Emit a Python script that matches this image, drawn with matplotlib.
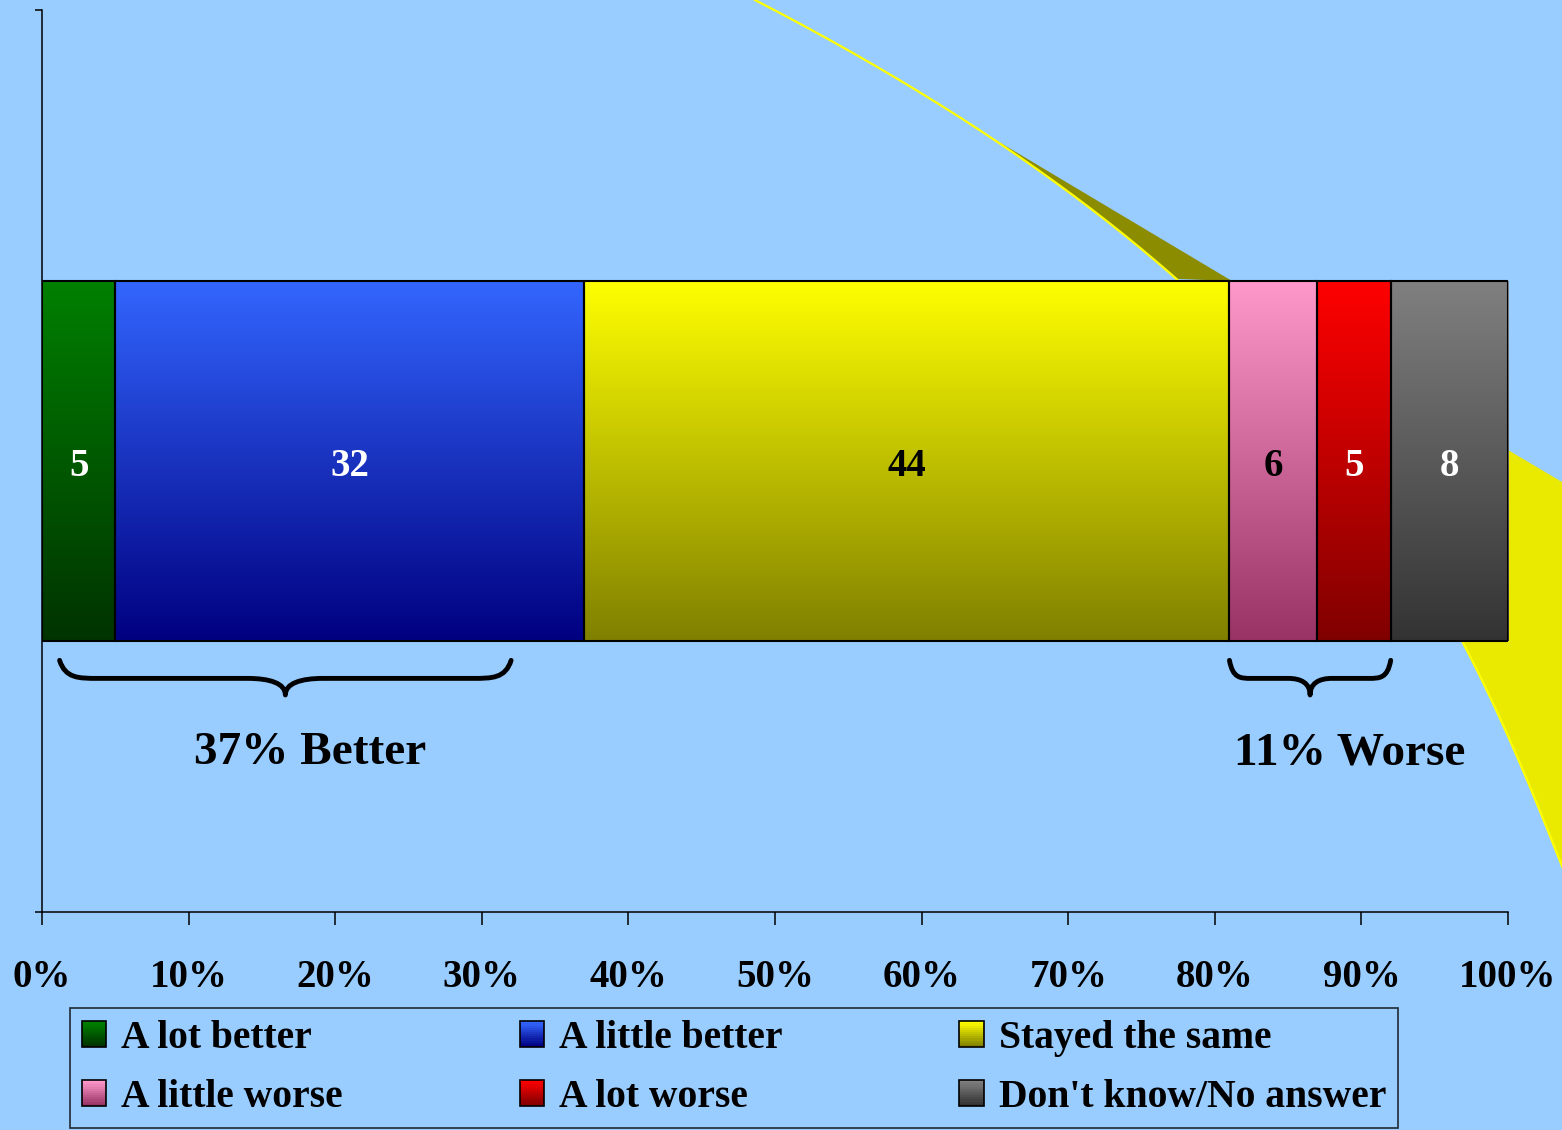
import numpy as np
import matplotlib
matplotlib.use('Agg')
import matplotlib.pyplot as plt
from matplotlib.colors import LinearSegmentedColormap, to_rgb
from matplotlib.patches import Rectangle, Polygon, PathPatch
from matplotlib.path import Path
from matplotlib.legend_handler import HandlerBase

# Data
categories = ['A lot better', 'A little better', 'Stayed the same',
              'A little worse', 'A lot worse', "Don't know/No answer"]
values = [5, 32, 44, 6, 5, 8]
top_colors = ['#008000', '#3366FF', '#FFFF00', '#FF99CC', '#FF0000', '#808080']
bottom_colors = ['#003300', '#000080', '#808000', '#993366', '#800000', '#333333']
label_colors = ['white', 'white', 'black', 'black', 'white', 'white']
xticks = [0, 10, 20, 30, 40, 50, 60, 70, 80, 90, 100]
xtick_labels = ['%d%%' % t for t in xticks]
better_idx = [0, 1]
worse_idx = [3, 4]

plt.rcParams['font.family'] = ['Liberation Serif', 'DejaVu Serif']
plt.rcParams['font.weight'] = 'bold'

W, H = 1562, 1130
fig = plt.figure(figsize=(W / 100, H / 100), dpi=100)
fig.patch.set_facecolor('#99CCFF')

# background swoosh (slide decoration), in pixel coords
bg = fig.add_axes([0, 0, 1, 1], zorder=0)
bg.set_xlim(0, W)
bg.set_ylim(H, 0)
bg.axis('off')
guide = np.array([(755, 0), (870, 64), (987, 133), (1085, 203), (1175, 280), (1260, 360),
                  (1335, 445), (1405, 540), (1462, 643), (1515, 750), (1562, 867)])
coef = np.polyfit(guide[:, 1], guide[:, 0], 3)
cy = np.linspace(0, 867, 200)
cx = np.polyval(coef, cy)
curve = np.column_stack([cx, cy])
y_tip, y_bar = 133, 281
up = curve[(cy >= y_tip) & (cy <= y_bar)]
x_tip = np.polyval(coef, y_tip)
x_bar = np.polyval(coef, y_bar)
wedge = np.vstack([up, [(1232, y_bar), (x_tip, y_tip)]])
bg.add_patch(Polygon(wedge, closed=True, facecolor='#8C8C00', edgecolor='none'))
low = curve[cy >= y_bar][::-1]
band = np.vstack([[(x_bar, y_bar), (1232, y_bar), (1508, 450), (1562, 482), (1562, 867)], low])
bg.add_patch(Polygon(band, closed=True, facecolor='#EAEA00', edgecolor='none'))
bg.plot(cx, cy, color='#FFFF00', lw=1.6)

# main chart
ax = fig.add_axes([42 / W, 1 - 912 / H, 1466 / W, 902 / H], zorder=1)
ax.patch.set_alpha(0)

lefts = np.concatenate([[0], np.cumsum(values)[:-1]])
bars = ax.barh(0.5, values, left=lefts, height=0.4, color='none',
               edgecolor='black', linewidth=1.5, zorder=3)
grad = np.linspace(0, 1, 256).reshape(-1, 1)
for bar, c0, c1 in zip(bars, top_colors, bottom_colors):
    x0, y0 = bar.get_x(), bar.get_y()
    cmap = LinearSegmentedColormap.from_list('g', [c1, c0])
    im = ax.imshow(grad, cmap=cmap, origin='lower', aspect='auto', zorder=2,
                   extent=[x0, x0 + bar.get_width(), y0, y0 + bar.get_height()])
    im.set_clip_path(bar)

for left, v, tc in zip(lefts, values, label_colors):
    ax.text(left + v / 2, 0.494, str(v), ha='center', va='center', color=tc,
            fontsize=28, fontweight='bold', zorder=4)


def brace(x0, x1, xc, a, yt=0.279, ym=0.259, yb=0.2406):
    verts = [(x0, yt), (x0 + 0.15 * a, ym), (x0 + 0.5 * a, ym), (x0 + a, ym),
             (xc - a, ym),
             (xc - 0.4 * a, ym), (xc, ym - 0.3 * (ym - yb)), (xc, yb),
             (xc, ym - 0.3 * (ym - yb)), (xc + 0.4 * a, ym), (xc + a, ym),
             (x1 - a, ym),
             (x1 - 0.5 * a, ym), (x1 - 0.15 * a, ym), (x1, yt)]
    codes = [Path.MOVETO, Path.CURVE4, Path.CURVE4, Path.CURVE4, Path.LINETO,
             Path.CURVE4, Path.CURVE4, Path.CURVE4,
             Path.CURVE4, Path.CURVE4, Path.CURVE4, Path.LINETO,
             Path.CURVE4, Path.CURVE4, Path.CURVE4]
    ax.add_patch(PathPatch(Path(verts, codes), facecolor='none', edgecolor='black',
                           lw=3.5, capstyle='round', joinstyle='round', clip_on=False))


brace(1.2, 32.0, 16.6, 2.6)
brace(81.0, 92.0, 86.5, 1.5)
better = sum(values[i] for i in better_idx)
worse = sum(values[i] for i in worse_idx)
ax.text(18.3, 0.176, '%d%% Better' % better, ha='center', va='center', fontsize=34, fontweight='bold')
ax.text(89.2, 0.176, '%d%% Worse' % worse, ha='center', va='center', fontsize=34, fontweight='bold')

ax.set_xlim(0, 100)
ax.set_ylim(0, 1)
ax.set_xticks(xticks)
ax.set_xticklabels(xtick_labels, fontsize=28, fontweight='bold')
ax.tick_params(axis='x', direction='out', length=9.5, width=1.1, pad=24)
ax.set_yticks([0, 1])
ax.set_yticklabels([])
ax.tick_params(axis='y', direction='out', length=5, width=1.1)
for s in ['top', 'right']:
    ax.spines[s].set_visible(False)
for s in ['left', 'bottom']:
    ax.spines[s].set_linewidth(1.1)


class GradientHandler(HandlerBase):
    def __init__(self, c_top, c_bot):
        super().__init__()
        self.c_top = np.array(to_rgb(c_top))
        self.c_bot = np.array(to_rgb(c_bot))

    def create_artists(self, legend, orig_handle, xdescent, ydescent, width, height, fontsize, trans):
        n = 12
        arts = []
        for i in range(n):
            c = self.c_bot + (self.c_top - self.c_bot) * i / (n - 1)
            arts.append(Rectangle((-xdescent, -ydescent + i * height / n), width, height / n + 0.3,
                                  facecolor=c, edgecolor='none', transform=trans))
        arts.append(Rectangle((-xdescent, -ydescent), width, height, facecolor='none',
                              edgecolor='black', lw=1.2, transform=trans))
        return arts


order = [0, 3, 1, 4, 2, 5]
hmap = {bars[i]: GradientHandler(top_colors[i], bottom_colors[i]) for i in range(len(values))}
leg = fig.legend([bars[i] for i in order], [categories[i] for i in order], ncol=3,
                 loc='center', bbox_to_anchor=(70 / W, 2 / H, 1328 / W, 120 / H),
                 bbox_transform=fig.transFigure, mode='expand', handler_map=hmap,
                 frameon=True, fancybox=False, edgecolor='black', facecolor='none',
                 prop={'size': 28.5, 'weight': 'bold'}, handlelength=0.62, handleheight=0.62,
                 handletextpad=0.38, borderpad=0.3, labelspacing=0.55, borderaxespad=0)
leg.get_frame().set_linewidth(1.2)

plt.savefig('out.png', dpi=100, facecolor=fig.get_facecolor())
